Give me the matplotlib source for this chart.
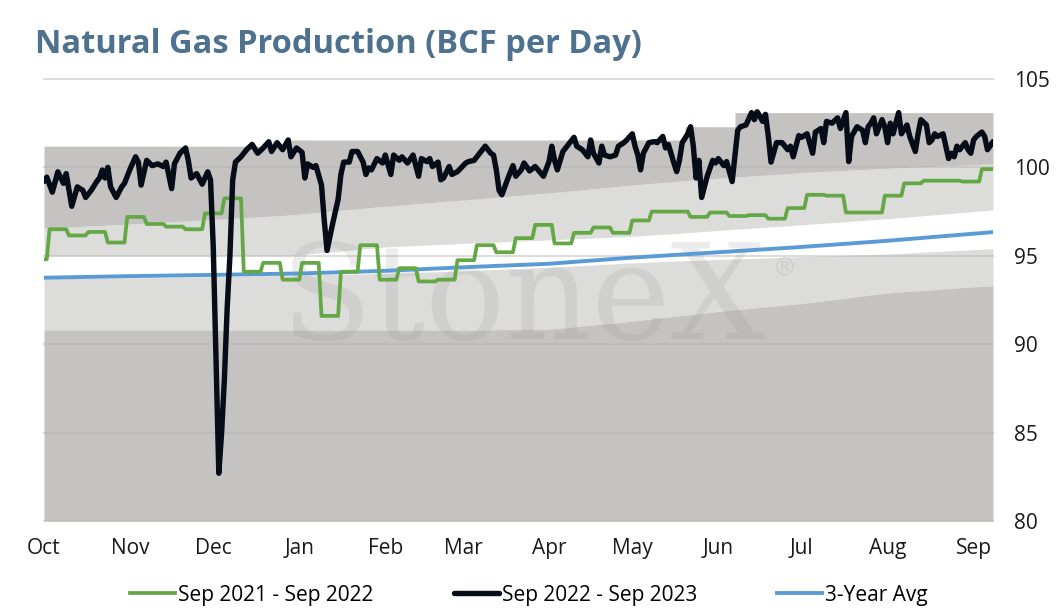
import matplotlib
matplotlib.use("Agg")
import matplotlib.pyplot as plt
import numpy as np

plt.rcParams['font.family'] = ['Open Sans', 'DejaVu Sans']

# days counted from Oct 1
month_days = [0, 31, 61, 92, 123, 151, 182, 212, 243, 273, 304, 335]
month_labels = ['Oct', 'Nov', 'Dec', 'Jan', 'Feb', 'Mar', 'Apr', 'May', 'Jun', 'Jul', 'Aug', 'Sep']

# Sep 2022 - Sep 2023 (daily)
black_days = [0, 1, 3, 5, 7, 8, 10, 12, 14, 15, 17, 19, 20, 21, 22, 23, 24, 26, 28, 29,
              31, 33, 34, 35, 37, 39, 41, 43, 44, 46, 47, 49, 51, 52, 53, 55, 57, 59, 60, 61,
              62, 63, 64, 65, 66, 67, 68, 69, 71, 73, 75, 77, 79, 81, 82, 84, 86, 88, 89, 91,
              93, 94, 95, 97, 98, 100, 101, 102, 104, 106, 107, 108, 110, 111, 113, 115, 116, 117, 118, 120,
              122, 123, 125, 126, 128, 129, 131, 133, 135, 136, 138, 139, 140, 142, 143, 144, 146, 147, 149, 152,
              153, 155, 157, 159, 161, 162, 163, 164, 165, 167, 168, 169, 170, 172, 173, 175, 177, 180, 182, 183,
              184, 185, 187, 189, 191, 192, 194, 196, 197, 198, 200, 201, 202, 204, 206, 207, 209, 210, 212, 213,
              214, 215, 216, 218, 220, 221, 223, 224, 225, 227, 228, 229, 230, 232, 233, 234, 235, 236, 237, 239,
              241, 242, 243, 245, 246, 248, 250, 251, 253, 255, 256, 257, 259, 260, 261, 262, 264, 266, 268, 269,
              270, 272, 273, 275, 277, 278, 280, 281, 282, 284, 286, 287, 289, 290, 291, 293, 295, 296, 297, 298,
              299, 300, 302, 303, 304, 305, 306, 308, 309, 311, 312, 314, 315, 316, 318, 319, 320, 321, 322, 324,
              325, 326, 327, 328, 329, 330, 332, 333, 334, 335, 336, 338, 339, 340, 342]
black_vals = [99.2, 99.45, 98.6, 99.75, 99.1, 99.65, 97.8, 98.9, 98.7, 98.3, 98.7, 99.2, 99.4, 99.85, 99.4, 100.0, 98.9, 98.3, 98.9, 99.1,
              99.9, 100.6, 100.3, 99.0, 100.4, 100.1, 100.2, 100.05, 100.3, 98.8, 100.2, 100.8, 101.1, 100.4, 99.4, 99.65, 99.05, 99.75, 99.3, 95.5,
              89.0, 82.7, 85.0, 88.0, 92.0, 95.0, 99.3, 100.3, 100.6, 101.0, 101.3, 100.8, 101.1, 101.45, 100.9, 101.4, 101.0, 101.55, 100.6, 101.1,
              100.85, 99.4, 100.2, 100.0, 100.1, 99.0, 97.0, 95.3, 96.8, 98.2, 99.6, 100.3, 100.3, 100.9, 100.9, 100.3, 99.6, 99.97, 99.86, 100.5,
              100.25, 100.7, 99.6, 100.7, 100.4, 100.6, 100.25, 100.7, 99.5, 100.5, 100.33, 100.5, 100.05, 100.3, 99.3, 99.4, 100.05, 99.6, 99.76, 100.25,
              100.33, 100.4, 100.8, 101.2, 100.8, 100.7, 99.86, 98.7, 98.45, 99.3, 99.7, 100.1, 99.5, 99.86, 100.25, 99.8, 100.05, 99.5, 100.33, 101.2,
              100.4, 99.86, 100.9, 101.3, 101.7, 101.2, 101.0, 100.6, 101.55, 100.8, 100.25, 101.2, 100.7, 100.6, 100.7, 101.2, 101.4, 101.55, 101.9, 101.2,
              100.7, 99.86, 100.8, 101.4, 101.46, 101.4, 101.75, 101.1, 101.3, 100.25, 99.76, 100.4, 101.4, 101.9, 102.3, 101.2, 99.4, 100.4, 98.3, 99.5,
              100.4, 100.25, 100.5, 100.1, 100.33, 99.2, 102.1, 102.3, 102.4, 103.1, 102.7, 103.15, 102.6, 103.0, 101.8, 100.3, 101.4, 101.4, 101.0, 101.2,
              100.6, 101.8, 101.7, 101.9, 100.8, 102.0, 102.2, 101.4, 102.6, 102.5, 102.8, 102.2, 103.1, 100.33, 101.75, 102.3, 102.1, 101.4, 102.3, 102.5,
              102.8, 101.9, 102.7, 102.3, 101.4, 102.5, 101.9, 103.1, 101.9, 102.4, 101.75, 100.9, 101.9, 102.7, 102.4, 101.4, 101.55, 101.9, 101.75, 101.9,
              101.2, 100.5, 100.8, 100.6, 101.2, 101.0, 101.4, 101.0, 100.8, 101.55, 101.75, 102.0, 101.75, 101.0, 101.46]

# Sep 2021 - Sep 2022 (weekly)
green_first_week = -5.5
green_vals = [94.8, 96.5, 96.15, 96.35, 95.75, 97.2, 96.8, 96.65, 96.5, 97.4,
              98.25, 94.1, 94.6, 93.65, 94.6, 91.6, 94.1, 95.6, 93.65, 94.3,
              93.55, 93.65, 94.75, 95.6, 95.2, 96.0, 96.75, 95.7, 96.3, 96.6,
              96.3, 97.0, 97.5, 97.5, 97.2, 97.45, 97.25, 97.3, 97.1, 97.7,
              98.45, 98.4, 97.45, 97.45, 98.4, 99.1, 99.25, 99.25, 99.2, 99.9]

# 3-year average
avg_days = [0, 31, 61, 92, 123, 151, 182, 212, 243, 273, 304, 335, 342]
avg_vals = [93.76, 93.85, 93.92, 94.0, 94.15, 94.35, 94.55, 94.9, 95.2, 95.5, 95.85, 96.25, 96.34]

# range bands (stacked boundaries)
band_days = [0, 31, 61, 88, 88, 123, 151, 182, 212, 231, 231, 249, 249, 273, 304, 335, 342]
band_1 = [90.8, 90.8, 90.8, 90.8, 90.8, 90.8, 90.8, 90.85, 91.3, 91.65, 91.65, 91.95, 91.95, 92.3, 92.9, 93.25, 93.3]
band_2 = [93.7, 93.75, 93.82, 93.9, 93.9, 94.0, 94.15, 94.35, 94.6, 94.72, 94.72, 94.82, 94.82, 94.95, 95.1, 95.35, 95.4]
band_3 = [95.0, 95.0, 95.0, 95.0, 95.0, 95.5, 95.7, 95.9, 96.1, 96.3, 96.3, 96.5, 96.5, 96.75, 97.1, 97.5, 97.6]
band_4 = [96.55, 96.8, 97.05, 97.3, 97.3, 97.8, 98.15, 98.55, 99.0, 99.25, 99.25, 99.45, 99.45, 99.7, 99.95, 100.15, 100.2]
band_5 = [101.2, 101.2, 101.2, 101.2, 101.55, 101.55, 101.55, 101.55, 101.55, 101.55, 102.3, 102.3, 103.1, 103.1, 103.1, 103.1, 103.1]

fig = plt.figure(figsize=(10.58, 6.14), dpi=100)
ax = fig.add_axes([44 / 1058, 93 / 614, 949 / 1058, 442 / 614])

band_col = '#b3b2af'
ax.fill_between(band_days, 80, band_1, color=band_col, alpha=0.77, lw=0, zorder=1)
ax.fill_between(band_days, band_1, band_2, color=band_col, alpha=0.45, lw=0, zorder=1)
ax.fill_between(band_days, band_3, band_4, color=band_col, alpha=0.45, lw=0, zorder=1)
ax.fill_between(band_days, band_4, band_5, color=band_col, alpha=0.77, lw=0, zorder=1)

ax.text(0.505, 0.495, 'StoneX', transform=ax.transAxes, fontsize=96, family='DejaVu Serif',
        color='#8c8c8c', alpha=0.16, ha='center', va='center', zorder=2)
ax.text(0.78, 0.57, '\u00ae', transform=ax.transAxes, fontsize=17, family='DejaVu Sans',
        color='#8c8c8c', alpha=0.2, ha='center', va='center', zorder=2)

# green weekly series: hold each week, 1-day transition to the next
gx, gy = [], []
for i, v in enumerate(green_vals):
    s = green_first_week + 7 * i
    gx += [s + 0.5, s + 6.5]
    gy += [v, v]
gx = np.clip(gx, 0, 342)

ln_avg, = ax.plot(avg_days, avg_vals, color='#5b9bd5', lw=2.8, zorder=3, label='3-Year Avg')
ln_g, = ax.plot(gx, gy, color='#63a845', lw=2.7, zorder=4, label='Sep 2021 - Sep 2022')
ln_b, = ax.plot(black_days, black_vals, color='#060d18', lw=3.9, zorder=5,
                solid_joinstyle='round', solid_capstyle='round', label='Sep 2022 - Sep 2023')

ax.set_xlim(0, 342)
ax.set_ylim(80, 105)
ax.set_yticks([80, 85, 90, 95, 100, 105])
ax.set_xticks(month_days)
ax.set_xticklabels(month_labels)
ax.yaxis.tick_right()
ax.tick_params(axis='both', length=0, labelsize=15, colors='#1a1a1a')
ax.tick_params(axis='x', pad=12)
ax.tick_params(axis='y', pad=15)
for sp in ax.spines.values():
    sp.set_visible(False)
ax.grid(axis='y', color='#d9d9d9', lw=1.3, zorder=0.5)
ax.set_axisbelow(True)
for gl in ax.get_ygridlines():
    gl.set_clip_on(False)

fig.text(35 / 1058, 1 - 53 / 614, 'Natural Gas Production (BCF per Day)', fontsize=23.5,
         fontweight='bold', color='#4e7190', ha='left', va='baseline')

fig.legend(handles=[ln_g, ln_b, ln_avg], loc='center', bbox_to_anchor=(0.5, 19 / 614), ncol=3,
           frameon=False, fontsize=15, handlelength=2.15, handletextpad=0.15, columnspacing=3.85)

fig.savefig('out.png', dpi=100)
